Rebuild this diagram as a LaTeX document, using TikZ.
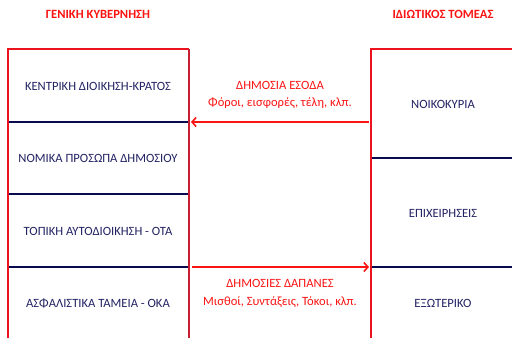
\documentclass[tikz,border=0pt]{standalone}
\usepackage{fontspec}
\setmainfont{Carlito}
\usetikzlibrary{arrows.meta}
\definecolor{titlered}{RGB}{250,20,20}
\definecolor{boxred}{RGB}{235,20,30}
\definecolor{darkline}{RGB}{200,30,50}
\definecolor{navyline}{RGB}{10,10,80}
\definecolor{navytext}{RGB}{35,35,100}
\tikzset{
  sector/.style={text=navytext,font=\fontsize{12.6}{15}\selectfont},
  flow/.style={text=titlered,font=\fontsize{12.6}{17.5}\selectfont,align=center},
  heading/.style={text=titlered,font=\bfseries\fontsize{12.6}{15}\selectfont}
}

\begin{document}
\begin{tikzpicture}[x=1pt,y=-1pt]
  \useasboundingbox (0,0) rectangle (512,338);
  \fill[white] (0,0) rectangle (512,338);
  % headings
  \node[heading] (gg) at (98,14) {ΓΕΝΙΚΗ ΚΥΒΕΡΝΗΣΗ};
  \node[heading] (pt) at (443,14) {ΙΔΙΩΤΙΚΟΣ ΤΟΜΕΑΣ};
  % general government box
  \draw[navyline,line width=1.6pt] (8,122)--(189,122) (8,194)--(189,194) (8,267)--(189,267);
  \draw[boxred,line width=1.6pt] (8,338)--(8,49)--(189,49);
  \draw[darkline,line width=1.6pt] (189,49)--(189,338);
  \node[sector] (kentr) at (98,86) {ΚΕΝΤΡΙΚΗ ΔΙΟΙΚΗΣΗ-ΚΡΑΤΟΣ};
  \node[sector] (npd) at (98,158) {ΝΟΜΙΚΑ ΠΡΟΣΩΠΑ ΔΗΜΟΣΙΟΥ};
  \node[sector] (ota) at (98,231) {ΤΟΠΙΚΗ ΑΥΤΟΔΙΟΙΚΗΣΗ - ΟΤΑ};
  \node[sector] (oka) at (98,303) {ΑΣΦΑΛΙΣΤΙΚΑ ΤΑΜΕΙΑ - ΟΚΑ};
  % private sector box
  \draw[navyline,line width=1.6pt] (371,158)--(512,158) (371,267)--(512,267);
  \draw[boxred,line width=1.6pt] (371,338)--(371,49)--(512,49);
  \node[sector] (noik) at (443,104) {ΝΟΙΚΟΚΥΡΙΑ};
  \node[sector] (epix) at (443,213) {ΕΠΙΧΕΙΡΗΣΕΙΣ};
  \node[sector] (exot) at (443,303) {ΕΞΩΤΕΡΙΚΟ};
  % flows
  \coordinate (ggtop) at (191,122);
  \coordinate (pttop) at (369,122);
  \coordinate (ggbot) at (192,267);
  \coordinate (ptbot) at (369,267);
  \draw[titlered,line width=1.6pt,-{Straight Barb[length=4pt,width=9pt]}] (pttop)--(ggtop);
  \draw[titlered,line width=1.6pt,-{Straight Barb[length=4pt,width=9pt]}] (ggbot)--(ptbot);
  \node[flow] (esoda) at (280,95) {ΔΗΜΟΣΙΑ ΕΣΟΔΑ\\Φόροι, εισφορές, τέλη, κλπ.};
  \node[flow] (dapanes) at (280,293.5) {ΔΗΜΟΣΙΕΣ ΔΑΠΑΝΕΣ\\Μισθοί, Συντάξεις, Τόκοι, κλπ.};
\end{tikzpicture}
\end{document}
